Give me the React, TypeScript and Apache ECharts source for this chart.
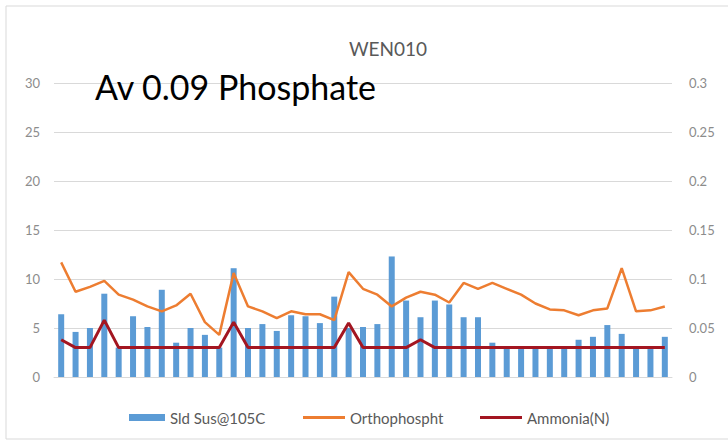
import React, { useEffect, useRef } from "react";
import * as echarts from "echarts";

const categories = [
  "1", "2", "3", "4", "5", "6", "7", "8", "9", "10",
  "11", "12", "13", "14", "15", "16", "17", "18", "19", "20",
  "21", "22", "23", "24", "25", "26", "27", "28", "29", "30",
  "31", "32", "33", "34", "35", "36", "37", "38", "39", "40",
  "41", "42", "43",
];

const solidsSuspended = [
  6.4, 4.6, 5.0, 8.5, 3.0, 6.2, 5.1, 8.9, 3.5, 5.0,
  4.3, 3.0, 11.1, 5.0, 5.4, 4.7, 6.3, 6.2, 5.5, 8.2,
  5.0, 5.1, 5.4, 12.3, 7.8, 6.1, 7.8, 7.4, 6.1, 6.1,
  3.5, 3.0, 3.0, 3.0, 3.0, 3.0, 3.8, 4.1, 5.3, 4.4,
  3.0, 3.0, 4.1,
];

const orthophosphate = [
  0.117, 0.087, 0.092, 0.098, 0.084, 0.079, 0.072, 0.067, 0.073, 0.085,
  0.056, 0.043, 0.106, 0.072, 0.067, 0.060, 0.067, 0.064, 0.064, 0.058,
  0.107, 0.090, 0.084, 0.072, 0.081, 0.087, 0.084, 0.076, 0.096, 0.090,
  0.096, 0.090, 0.084, 0.075, 0.069, 0.068, 0.063, 0.068, 0.070, 0.111,
  0.067, 0.068, 0.072,
];

const ammonia = [
  0.038, 0.03, 0.03, 0.058, 0.03, 0.03, 0.03, 0.03, 0.03, 0.03,
  0.03, 0.03, 0.056, 0.03, 0.03, 0.03, 0.03, 0.03, 0.03, 0.03,
  0.055, 0.03, 0.03, 0.03, 0.03, 0.038, 0.03, 0.03, 0.03, 0.03,
  0.03, 0.03, 0.03, 0.03, 0.03, 0.03, 0.03, 0.03, 0.03, 0.03,
  0.03, 0.03, 0.03,
];

const seriesNames = ["Sld Sus@105C", "Orthophospht", "Ammonia(N)"];
const chartTitle = "WEN010";
const annotation = "Av 0.09 Phosphate";

const FONT = "Lato, 'Open Sans', sans-serif";

export default function App() {
  const ref = useRef<HTMLDivElement>(null);

  useEffect(() => {
    if (!ref.current) return;
    const chart = echarts.init(ref.current, undefined, { renderer: "svg" });
    const legendText = { color: "#595959", fontSize: 15, fontFamily: FONT };
    const axisLabel = { color: "#8c8c8c", fontSize: 13, fontFamily: FONT };
    chart.setOption({
      animation: false,
      backgroundColor: "#ffffff",
      grid: { left: 54, right: 56, top: 83, bottom: 67 },
      graphic: [
        {
          type: "rect",
          shape: { x: 6, y: 6, width: 760, height: 433 },
          style: { fill: "none", stroke: "#d9d9d9", lineWidth: 1 },
          silent: true,
        },
        {
          type: "text",
          x: 388,
          y: 48,
          style: {
            text: chartTitle,
            fill: "#595959",
            fontSize: 19,
            fontFamily: FONT,
            textAlign: "center",
            textVerticalAlign: "middle",
          },
        },
        {
          type: "text",
          x: 95,
          y: 86,
          z: 100,
          style: {
            text: annotation,
            fill: "#000000",
            fontSize: 34,
            fontFamily: FONT,
            textAlign: "left",
            textVerticalAlign: "middle",
          },
        },
      ],
      legend: [
        {
          data: [{ name: seriesNames[0], icon: "rect" }],
          left: 129,
          top: 410,
          padding: 0,
          itemWidth: 36,
          itemHeight: 7,
          textStyle: legendText,
        },
        {
          data: [{ name: seriesNames[1], icon: "rect" }],
          left: 303,
          top: 410,
          padding: 0,
          itemWidth: 42,
          itemHeight: 3,
          textStyle: legendText,
        },
        {
          data: [{ name: seriesNames[2], icon: "rect" }],
          left: 480,
          top: 410,
          padding: 0,
          itemWidth: 42,
          itemHeight: 3,
          textStyle: legendText,
        },
      ],
      xAxis: {
        type: "category",
        data: categories,
        axisLabel: { show: false },
        axisTick: { show: false },
        axisLine: { show: true, lineStyle: { color: "#d9d9d9" } },
      },
      yAxis: [
        {
          type: "value",
          min: 0,
          max: 30,
          interval: 5,
          axisLine: { show: false },
          axisTick: { show: false },
          axisLabel: { ...axisLabel, margin: 14 },
          splitLine: { lineStyle: { color: "#d9d9d9", width: 1 } },
        },
        {
          type: "value",
          min: 0,
          max: 0.3,
          interval: 0.05,
          axisLine: { show: false },
          axisTick: { show: false },
          axisLabel: { ...axisLabel, margin: 17 },
          splitLine: { show: false },
        },
      ],
      series: [
        {
          name: seriesNames[0],
          type: "bar",
          data: solidsSuspended,
          barWidth: 6,
          itemStyle: { color: "#5B9BD5" },
          yAxisIndex: 0,
        },
        {
          name: seriesNames[1],
          type: "line",
          data: orthophosphate,
          yAxisIndex: 1,
          symbol: "none",
          lineStyle: { color: "#ED7D31", width: 2.5 },
          itemStyle: { color: "#ED7D31" },
        },
        {
          name: seriesNames[2],
          type: "line",
          data: ammonia,
          yAxisIndex: 1,
          symbol: "none",
          lineStyle: { color: "#A31621", width: 3 },
          itemStyle: { color: "#A31621" },
        },
      ],
    });
    return () => chart.dispose();
  }, []);

  return (
    <div
      ref={ref}
      style={{ position: "fixed", left: 0, top: 0, width: 728, height: 444 }}
    />
  );
}
